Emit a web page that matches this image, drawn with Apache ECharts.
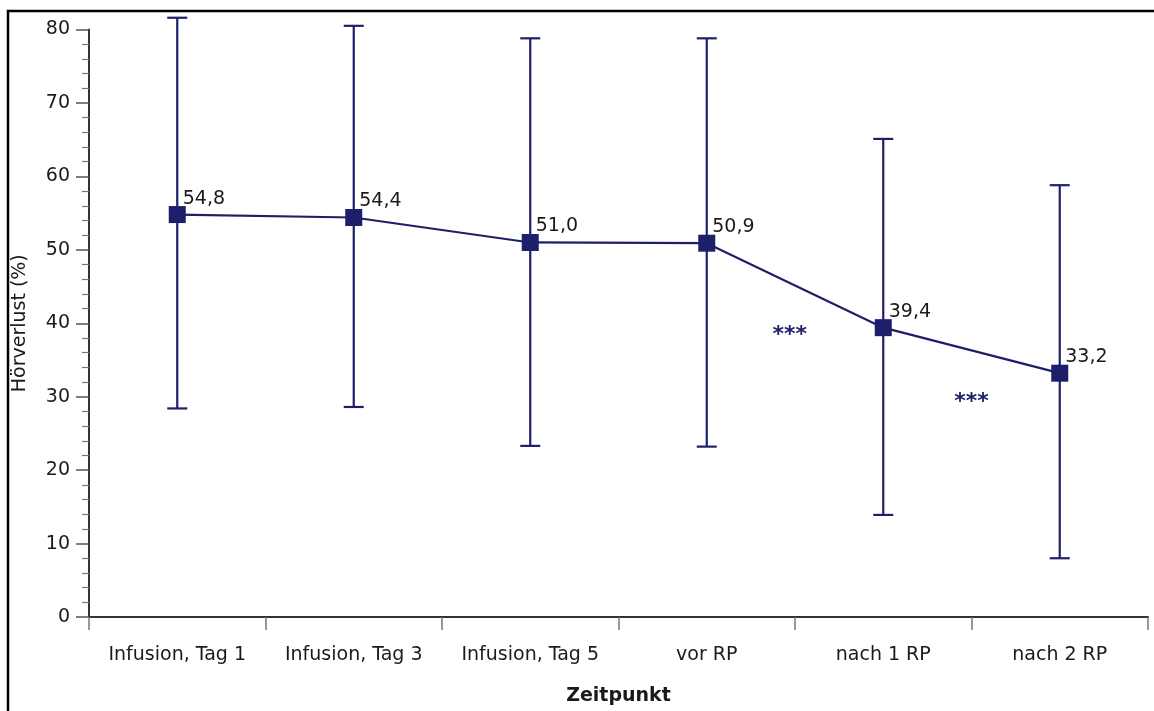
<!DOCTYPE html>
<html>
<head>
<meta charset="utf-8">
<script src="https://cdn.jsdelivr.net/npm/echarts@6/dist/echarts.min.js"></script>
<style>
  html, body { margin: 0; padding: 0; background: #fff; }
  #chart { width: 1154px; height: 711px; }
</style>
</head>
<body>
<div id="chart"></div>
<script>
// Zeitpunkte
const categories = ['Infusion, Tag 1', 'Infusion, Tag 3', 'Infusion, Tag 5', 'vor RP', 'nach 1 RP', 'nach 2 RP'];
// Mittelwerte Hörverlust (%)
const means = [54.8, 54.4, 51.0, 50.9, 39.4, 33.2];
// Fehlerbalken (unten / oben)
const lowerBounds = [28.4, 28.6, 23.3, 23.2, 13.9, 8.0];
const upperBounds = [81.6, 80.5, 78.8, 78.8, 65.1, 58.8];
// Signifikanz-Marker zwischen den Zeitpunkten: [x-Position, y-Wert]
const sigMarks = [[3.47, 38.4], [4.5, 29.3]];
const yTicks = { min: 0, max: 80, interval: 10 };

const navy = '#1e1f6b';
const textColor = '#1a1a1a';
const font = 'DejaVu Sans';

const chart = echarts.init(document.getElementById('chart'));

const errorData = categories.map((c, i) => [i, lowerBounds[i], upperBounds[i]]);

const option = {
  backgroundColor: '#fff',
  animation: false,
  textStyle: { fontFamily: font },
  grid: { left: 89, right: 6, top: 29.5, bottom: 89 },
  graphic: [
    {
      type: 'polyline',
      shape: { points: [[8, 711], [8, 11], [1154, 11]] },
      style: { stroke: '#000', lineWidth: 2.5, fill: null },
      silent: true,
    },
  ],
  xAxis: [
    {
      type: 'category',
      data: categories,
      boundaryGap: true,
      name: 'Zeitpunkt',
      nameLocation: 'middle',
      nameGap: 70,
      nameTextStyle: { fontSize: 19, fontWeight: 'bold', color: textColor, fontFamily: font },
      axisLine: { show: true, onZero: false, lineStyle: { color: '#333', width: 2 } },
      axisTick: { show: true, interval: 0, length: 13, lineStyle: { color: '#777', width: 1.5 } },
      axisLabel: { interval: 0, margin: 29, fontSize: 19, color: textColor, fontFamily: font },
      splitLine: { show: false },
    },
    {
      type: 'value',
      min: -0.5,
      max: 5.5,
      show: false,
      axisLine: { onZero: false },
    },
  ],
  yAxis: {
    type: 'value',
    min: yTicks.min,
    max: yTicks.max,
    interval: yTicks.interval,
    name: 'Hörverlust (%)',
    nameLocation: 'middle',
    nameGap: 59,
    nameTextStyle: { fontSize: 19, color: textColor, fontFamily: font },
    axisLine: { show: true, onZero: false, lineStyle: { color: '#333', width: 2 } },
    axisTick: { show: true, length: 13, lineStyle: { color: '#555', width: 1.5 } },
    minorTick: { show: true, splitNumber: 5, length: 7, lineStyle: { color: '#777', width: 1.2 } },
    axisLabel: { margin: 19, fontSize: 19, color: textColor, fontFamily: font },
    splitLine: { show: false },
  },
  series: [
    {
      // Fehlerbalken
      type: 'custom',
      xAxisIndex: 0,
      data: errorData,
      z: 2,
      renderItem: (params, api) => {
        const i = api.value(0);
        const lo = api.coord([i, api.value(1)]);
        const hi = api.coord([i, api.value(2)]);
        const half = 10;
        const style = { stroke: navy, lineWidth: 2.2 };
        return {
          type: 'group',
          children: [
            { type: 'line', shape: { x1: lo[0], y1: lo[1], x2: hi[0], y2: hi[1] }, style },
            { type: 'line', shape: { x1: hi[0] - half, y1: hi[1], x2: hi[0] + half, y2: hi[1] }, style },
            { type: 'line', shape: { x1: lo[0] - half, y1: lo[1], x2: lo[0] + half, y2: lo[1] }, style },
          ],
        };
      },
    },
    {
      type: 'line',
      xAxisIndex: 0,
      data: means,
      z: 3,
      symbol: 'rect',
      symbolSize: 17,
      lineStyle: { color: navy, width: 2.2 },
      itemStyle: { color: navy },
      label: {
        show: true,
        position: [14, -17],
        fontSize: 19,
        color: textColor,
        fontFamily: font,
        formatter: (p) => p.value.toFixed(1).replace('.', ','),
      },
    },
    {
      // Signifikanz ***
      type: 'scatter',
      xAxisIndex: 1,
      data: sigMarks,
      symbolSize: 0,
      z: 4,
      itemStyle: { opacity: 1, color: navy },
      label: {
        show: true,
        position: 'inside',
        formatter: '***',
        fontSize: 22,
        fontWeight: 'bold',
        color: navy,
        opacity: 1,
        fontFamily: font,
      },
    },
  ],
};

chart.setOption(option);
</script>
</body>
</html>
